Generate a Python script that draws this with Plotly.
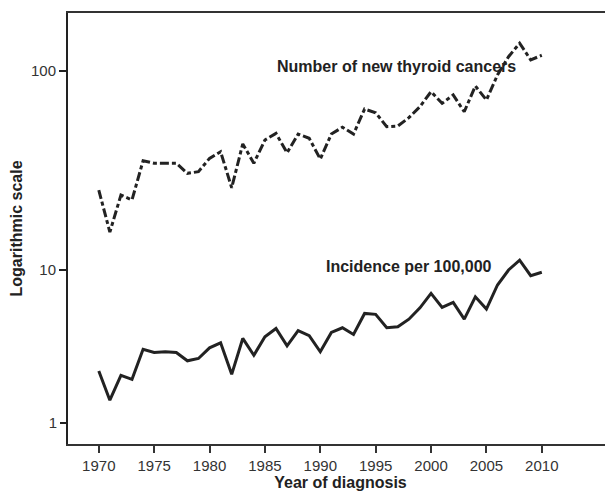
import plotly.graph_objects as go

years = list(range(1970, 2011))
new_cancers = [25.2, 15.5, 23.8, 22.5, 35.4, 34.4, 34.4, 34.4, 30.6, 31.2,
               36.4, 39.3, 25.9, 43.0, 34.4, 45.0, 48.6, 38.8, 48.2, 45.9,
               36.1, 48.2, 52.2, 48.2, 64.4, 61.7, 52.5, 52.9, 58.3, 66.2,
               78.7, 68.8, 75.8, 62.4, 84.1, 71.5, 95.5, 118, 138, 113.6, 120]
incidence = [2.19, 1.41, 2.05, 1.93, 3.03, 2.89, 2.92, 2.89, 2.55, 2.64,
             3.10, 3.34, 2.08, 3.57, 2.77, 3.66, 4.15, 3.19, 4.01, 3.72,
             2.92, 3.91, 4.19, 3.79, 5.20, 5.13, 4.19, 4.25, 4.77, 5.66,
             7.03, 5.70, 6.14, 4.77, 6.68, 5.55, 7.98, 10.0, 11.6, 9.18, 9.66]
x_ticks = [1970, 1975, 1980, 1985, 1990, 1995, 2000, 2005, 2010]

FONT = "Liberation Sans, Arial, Helvetica, sans-serif"
INK = "#222222"

fig = go.Figure()
fig.add_trace(go.Scatter(x=years, y=new_cancers, mode="lines", yaxis="y",
                         line=dict(color=INK, width=3, dash="9px,3px,4px,3px"),
                         showlegend=False))
fig.add_trace(go.Scatter(x=years, y=incidence, mode="lines", yaxis="y2",
                         line=dict(color=INK, width=3), showlegend=False))

# page body has an 8px margin; figure is sized/margined to compensate
fig.update_layout(
    width=605, height=483,
    margin=dict(l=60, r=0, t=5, b=47),
    paper_bgcolor="white", plot_bgcolor="white",
    font=dict(family=FONT, size=15, color=INK),
    xaxis=dict(range=[1967.22, 2016.43], tickvals=x_ticks,
               showgrid=False, zeroline=False,
               showline=True, linecolor="#333333", linewidth=2, mirror=True,
               ticks="outside", ticklen=7, tickwidth=1.5, tickcolor="#333333",
               tickfont=dict(size=15, color="#333333"),
               title=dict(text="<b>Year of diagnosis</b>", font=dict(size=16), standoff=4)),
    yaxis=dict(type="log", range=[0.1256, 2.2915], tickvals=[10, 100],
               ticktext=["10", "100"], showgrid=False, zeroline=False,
               showline=True, linecolor="#222222", linewidth=2,
               ticks="outside", ticklen=7, tickwidth=1.5, tickcolor="#222222",
               tickfont=dict(size=15, color="#333333"),
               title=dict(text="<b>Logarithmic scale</b>", font=dict(size=16), standoff=8)),
    yaxis2=dict(type="log", range=[-0.1373, 2.6797], tickvals=[1], ticktext=["1"],
                overlaying="y", side="left", anchor="x",
                showgrid=False, zeroline=False, showline=False,
                ticks="outside", ticklen=7, tickwidth=1.5, tickcolor="#222222",
                tickfont=dict(size=15, color="#333333")),
    annotations=[
        dict(text="<b>Number of new thyroid cancers</b>", x=1996.86, y=2.025,
             xref="x", yref="y", showarrow=False, xanchor="center", yanchor="middle",
             font=dict(size=16, color=INK)),
        dict(text="<b>Incidence per 100,000</b>", x=1998.0, y=1.02,
             xref="x", yref="y", showarrow=False, xanchor="center", yanchor="middle",
             font=dict(size=16, color=INK)),
    ],
)

fig.write_html("out.html")
